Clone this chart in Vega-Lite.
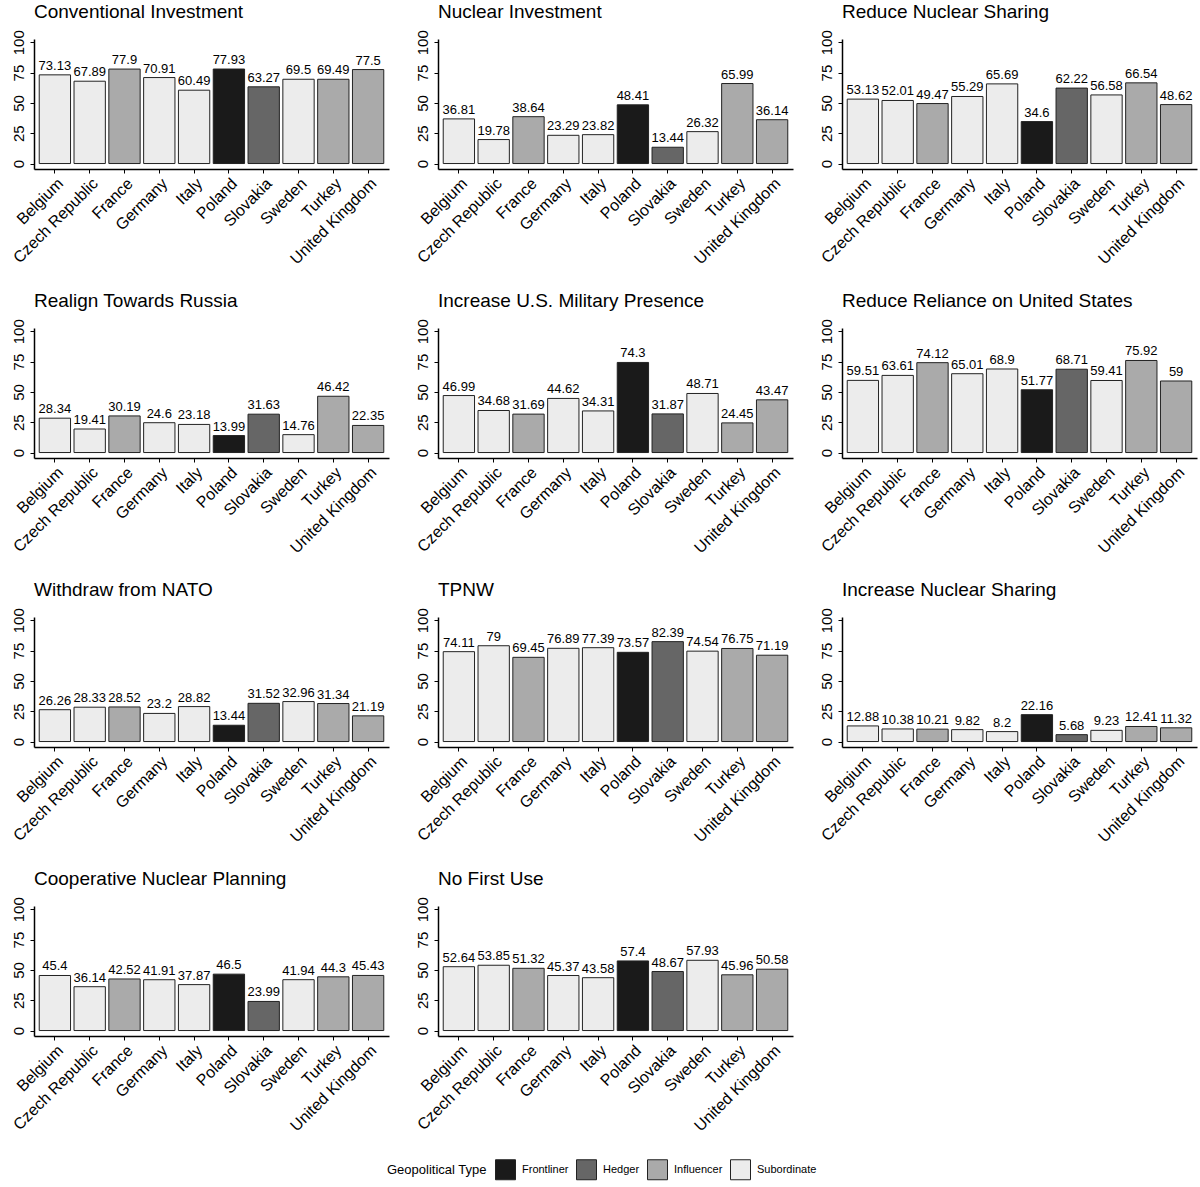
{
  "$schema": "https://vega.github.io/schema/vega-lite/v6.json",
  "padding": {"left": 9, "top": 2, "right": 5, "bottom": 5},
  "background": "white",
  "config": {
    "font": "Liberation Sans",
    "view": {"stroke": null},
    "axis": {"grid": false, "domainColor": "black", "domainWidth": 1.5, "tickColor": "black", "tickSize": 4, "labelColor": "black", "labelFont": "Liberation Sans", "title": null},
    "header": {"labelFont": "Liberation Sans", "labelFontSize": 19, "labelAnchor": "start", "labelColor": "black", "labelPadding": 8},
    "legend": {"labelFont": "Liberation Sans", "titleFont": "Liberation Sans"}
  },
  "data": {"values": [
    {"measure":"Conventional Investment","country":"Belgium","type":"Subordinate","value":73.13},
    {"measure":"Conventional Investment","country":"Czech Republic","type":"Subordinate","value":67.89},
    {"measure":"Conventional Investment","country":"France","type":"Influencer","value":77.9},
    {"measure":"Conventional Investment","country":"Germany","type":"Subordinate","value":70.91},
    {"measure":"Conventional Investment","country":"Italy","type":"Subordinate","value":60.49},
    {"measure":"Conventional Investment","country":"Poland","type":"Frontliner","value":77.93},
    {"measure":"Conventional Investment","country":"Slovakia","type":"Hedger","value":63.27},
    {"measure":"Conventional Investment","country":"Sweden","type":"Subordinate","value":69.5},
    {"measure":"Conventional Investment","country":"Turkey","type":"Influencer","value":69.49},
    {"measure":"Conventional Investment","country":"United Kingdom","type":"Influencer","value":77.5},
    {"measure":"Nuclear Investment","country":"Belgium","type":"Subordinate","value":36.81},
    {"measure":"Nuclear Investment","country":"Czech Republic","type":"Subordinate","value":19.78},
    {"measure":"Nuclear Investment","country":"France","type":"Influencer","value":38.64},
    {"measure":"Nuclear Investment","country":"Germany","type":"Subordinate","value":23.29},
    {"measure":"Nuclear Investment","country":"Italy","type":"Subordinate","value":23.82},
    {"measure":"Nuclear Investment","country":"Poland","type":"Frontliner","value":48.41},
    {"measure":"Nuclear Investment","country":"Slovakia","type":"Hedger","value":13.44},
    {"measure":"Nuclear Investment","country":"Sweden","type":"Subordinate","value":26.32},
    {"measure":"Nuclear Investment","country":"Turkey","type":"Influencer","value":65.99},
    {"measure":"Nuclear Investment","country":"United Kingdom","type":"Influencer","value":36.14},
    {"measure":"Reduce Nuclear Sharing","country":"Belgium","type":"Subordinate","value":53.13},
    {"measure":"Reduce Nuclear Sharing","country":"Czech Republic","type":"Subordinate","value":52.01},
    {"measure":"Reduce Nuclear Sharing","country":"France","type":"Influencer","value":49.47},
    {"measure":"Reduce Nuclear Sharing","country":"Germany","type":"Subordinate","value":55.29},
    {"measure":"Reduce Nuclear Sharing","country":"Italy","type":"Subordinate","value":65.69},
    {"measure":"Reduce Nuclear Sharing","country":"Poland","type":"Frontliner","value":34.6},
    {"measure":"Reduce Nuclear Sharing","country":"Slovakia","type":"Hedger","value":62.22},
    {"measure":"Reduce Nuclear Sharing","country":"Sweden","type":"Subordinate","value":56.58},
    {"measure":"Reduce Nuclear Sharing","country":"Turkey","type":"Influencer","value":66.54},
    {"measure":"Reduce Nuclear Sharing","country":"United Kingdom","type":"Influencer","value":48.62},
    {"measure":"Realign Towards Russia","country":"Belgium","type":"Subordinate","value":28.34},
    {"measure":"Realign Towards Russia","country":"Czech Republic","type":"Subordinate","value":19.41},
    {"measure":"Realign Towards Russia","country":"France","type":"Influencer","value":30.19},
    {"measure":"Realign Towards Russia","country":"Germany","type":"Subordinate","value":24.6},
    {"measure":"Realign Towards Russia","country":"Italy","type":"Subordinate","value":23.18},
    {"measure":"Realign Towards Russia","country":"Poland","type":"Frontliner","value":13.99},
    {"measure":"Realign Towards Russia","country":"Slovakia","type":"Hedger","value":31.63},
    {"measure":"Realign Towards Russia","country":"Sweden","type":"Subordinate","value":14.76},
    {"measure":"Realign Towards Russia","country":"Turkey","type":"Influencer","value":46.42},
    {"measure":"Realign Towards Russia","country":"United Kingdom","type":"Influencer","value":22.35},
    {"measure":"Increase U.S. Military Presence","country":"Belgium","type":"Subordinate","value":46.99},
    {"measure":"Increase U.S. Military Presence","country":"Czech Republic","type":"Subordinate","value":34.68},
    {"measure":"Increase U.S. Military Presence","country":"France","type":"Influencer","value":31.69},
    {"measure":"Increase U.S. Military Presence","country":"Germany","type":"Subordinate","value":44.62},
    {"measure":"Increase U.S. Military Presence","country":"Italy","type":"Subordinate","value":34.31},
    {"measure":"Increase U.S. Military Presence","country":"Poland","type":"Frontliner","value":74.3},
    {"measure":"Increase U.S. Military Presence","country":"Slovakia","type":"Hedger","value":31.87},
    {"measure":"Increase U.S. Military Presence","country":"Sweden","type":"Subordinate","value":48.71},
    {"measure":"Increase U.S. Military Presence","country":"Turkey","type":"Influencer","value":24.45},
    {"measure":"Increase U.S. Military Presence","country":"United Kingdom","type":"Influencer","value":43.47},
    {"measure":"Reduce Reliance on United States","country":"Belgium","type":"Subordinate","value":59.51},
    {"measure":"Reduce Reliance on United States","country":"Czech Republic","type":"Subordinate","value":63.61},
    {"measure":"Reduce Reliance on United States","country":"France","type":"Influencer","value":74.12},
    {"measure":"Reduce Reliance on United States","country":"Germany","type":"Subordinate","value":65.01},
    {"measure":"Reduce Reliance on United States","country":"Italy","type":"Subordinate","value":68.9},
    {"measure":"Reduce Reliance on United States","country":"Poland","type":"Frontliner","value":51.77},
    {"measure":"Reduce Reliance on United States","country":"Slovakia","type":"Hedger","value":68.71},
    {"measure":"Reduce Reliance on United States","country":"Sweden","type":"Subordinate","value":59.41},
    {"measure":"Reduce Reliance on United States","country":"Turkey","type":"Influencer","value":75.92},
    {"measure":"Reduce Reliance on United States","country":"United Kingdom","type":"Influencer","value":59},
    {"measure":"Withdraw from NATO","country":"Belgium","type":"Subordinate","value":26.26},
    {"measure":"Withdraw from NATO","country":"Czech Republic","type":"Subordinate","value":28.33},
    {"measure":"Withdraw from NATO","country":"France","type":"Influencer","value":28.52},
    {"measure":"Withdraw from NATO","country":"Germany","type":"Subordinate","value":23.2},
    {"measure":"Withdraw from NATO","country":"Italy","type":"Subordinate","value":28.82},
    {"measure":"Withdraw from NATO","country":"Poland","type":"Frontliner","value":13.44},
    {"measure":"Withdraw from NATO","country":"Slovakia","type":"Hedger","value":31.52},
    {"measure":"Withdraw from NATO","country":"Sweden","type":"Subordinate","value":32.96},
    {"measure":"Withdraw from NATO","country":"Turkey","type":"Influencer","value":31.34},
    {"measure":"Withdraw from NATO","country":"United Kingdom","type":"Influencer","value":21.19},
    {"measure":"TPNW","country":"Belgium","type":"Subordinate","value":74.11},
    {"measure":"TPNW","country":"Czech Republic","type":"Subordinate","value":79},
    {"measure":"TPNW","country":"France","type":"Influencer","value":69.45},
    {"measure":"TPNW","country":"Germany","type":"Subordinate","value":76.89},
    {"measure":"TPNW","country":"Italy","type":"Subordinate","value":77.39},
    {"measure":"TPNW","country":"Poland","type":"Frontliner","value":73.57},
    {"measure":"TPNW","country":"Slovakia","type":"Hedger","value":82.39},
    {"measure":"TPNW","country":"Sweden","type":"Subordinate","value":74.54},
    {"measure":"TPNW","country":"Turkey","type":"Influencer","value":76.75},
    {"measure":"TPNW","country":"United Kingdom","type":"Influencer","value":71.19},
    {"measure":"Increase Nuclear Sharing","country":"Belgium","type":"Subordinate","value":12.88},
    {"measure":"Increase Nuclear Sharing","country":"Czech Republic","type":"Subordinate","value":10.38},
    {"measure":"Increase Nuclear Sharing","country":"France","type":"Influencer","value":10.21},
    {"measure":"Increase Nuclear Sharing","country":"Germany","type":"Subordinate","value":9.82},
    {"measure":"Increase Nuclear Sharing","country":"Italy","type":"Subordinate","value":8.2},
    {"measure":"Increase Nuclear Sharing","country":"Poland","type":"Frontliner","value":22.16},
    {"measure":"Increase Nuclear Sharing","country":"Slovakia","type":"Hedger","value":5.68},
    {"measure":"Increase Nuclear Sharing","country":"Sweden","type":"Subordinate","value":9.23},
    {"measure":"Increase Nuclear Sharing","country":"Turkey","type":"Influencer","value":12.41},
    {"measure":"Increase Nuclear Sharing","country":"United Kingdom","type":"Influencer","value":11.32},
    {"measure":"Cooperative Nuclear Planning","country":"Belgium","type":"Subordinate","value":45.4},
    {"measure":"Cooperative Nuclear Planning","country":"Czech Republic","type":"Subordinate","value":36.14},
    {"measure":"Cooperative Nuclear Planning","country":"France","type":"Influencer","value":42.52},
    {"measure":"Cooperative Nuclear Planning","country":"Germany","type":"Subordinate","value":41.91},
    {"measure":"Cooperative Nuclear Planning","country":"Italy","type":"Subordinate","value":37.87},
    {"measure":"Cooperative Nuclear Planning","country":"Poland","type":"Frontliner","value":46.5},
    {"measure":"Cooperative Nuclear Planning","country":"Slovakia","type":"Hedger","value":23.99},
    {"measure":"Cooperative Nuclear Planning","country":"Sweden","type":"Subordinate","value":41.94},
    {"measure":"Cooperative Nuclear Planning","country":"Turkey","type":"Influencer","value":44.3},
    {"measure":"Cooperative Nuclear Planning","country":"United Kingdom","type":"Influencer","value":45.43},
    {"measure":"No First Use","country":"Belgium","type":"Subordinate","value":52.64},
    {"measure":"No First Use","country":"Czech Republic","type":"Subordinate","value":53.85},
    {"measure":"No First Use","country":"France","type":"Influencer","value":51.32},
    {"measure":"No First Use","country":"Germany","type":"Subordinate","value":45.37},
    {"measure":"No First Use","country":"Italy","type":"Subordinate","value":43.58},
    {"measure":"No First Use","country":"Poland","type":"Frontliner","value":57.4},
    {"measure":"No First Use","country":"Slovakia","type":"Hedger","value":48.67},
    {"measure":"No First Use","country":"Sweden","type":"Subordinate","value":57.93},
    {"measure":"No First Use","country":"Turkey","type":"Influencer","value":45.96},
    {"measure":"No First Use","country":"United Kingdom","type":"Influencer","value":50.58}
  ]},
  "facet": {
    "field": "measure",
    "type": "nominal",
    "title": null,
    "sort": ["Conventional Investment","Nuclear Investment","Reduce Nuclear Sharing","Realign Towards Russia","Increase U.S. Military Presence","Reduce Reliance on United States","Withdraw from NATO","TPNW","Increase Nuclear Sharing","Cooperative Nuclear Planning","No First Use"]
  },
  "columns": 3,
  "spacing": {"column": 24, "row": 24},
  "resolve": {"axis": {"x": "independent", "y": "independent"}},
  "spec": {
    "width": 355,
    "height": 130,
    "encoding": {
      "x": {
        "field": "country", "type": "nominal", "sort": null,
        "scale": {"paddingInner": 0.1, "paddingOuter": 0.15},
        "axis": {"labelAngle": -45, "labelFontSize": 16, "labelAlign": "right", "labelBaseline": "top", "labelPadding": 2, "domainWidth": 1.5}
      },
      "y": {
        "field": "value", "type": "quantitative",
        "scale": {"domain": [-4.5, 102.7], "nice": false, "zero": false},
        "axis": {"values": [0, 25, 50, 75, 100], "labelAngle": -90, "labelAlign": "center", "labelBaseline": "bottom", "labelFontSize": 15, "labelPadding": 4}
      }
    },
    "layer": [
      {
        "mark": {"type": "bar", "stroke": "#222222", "strokeWidth": 1},
        "encoding": {
          "y2": {"datum": 0},
          "fill": {
            "field": "type", "type": "nominal",
            "scale": {"domain": ["Frontliner", "Hedger", "Influencer", "Subordinate"], "range": ["#1a1a1a", "#666666", "#aaaaaa", "#ececec"]},
            "legend": {"title": "Geopolitical Type", "orient": "none", "legendX": 353, "legendY": 1120, "direction": "horizontal", "titleOrient": "left", "symbolType": "square", "symbolSize": 400, "symbolStrokeColor": "#222222", "symbolStrokeWidth": 1, "labelFontSize": 11, "titleFontSize": 13, "titleFontWeight": "normal", "titlePadding": 8, "columnPadding": 5, "labelOffset": 6}
          }
        }
      },
      {
        "mark": {"type": "text", "baseline": "bottom", "dy": -2, "fontSize": 13, "color": "black"},
        "encoding": {"text": {"field": "value", "type": "quantitative"}}
      }
    ]
  }
}
